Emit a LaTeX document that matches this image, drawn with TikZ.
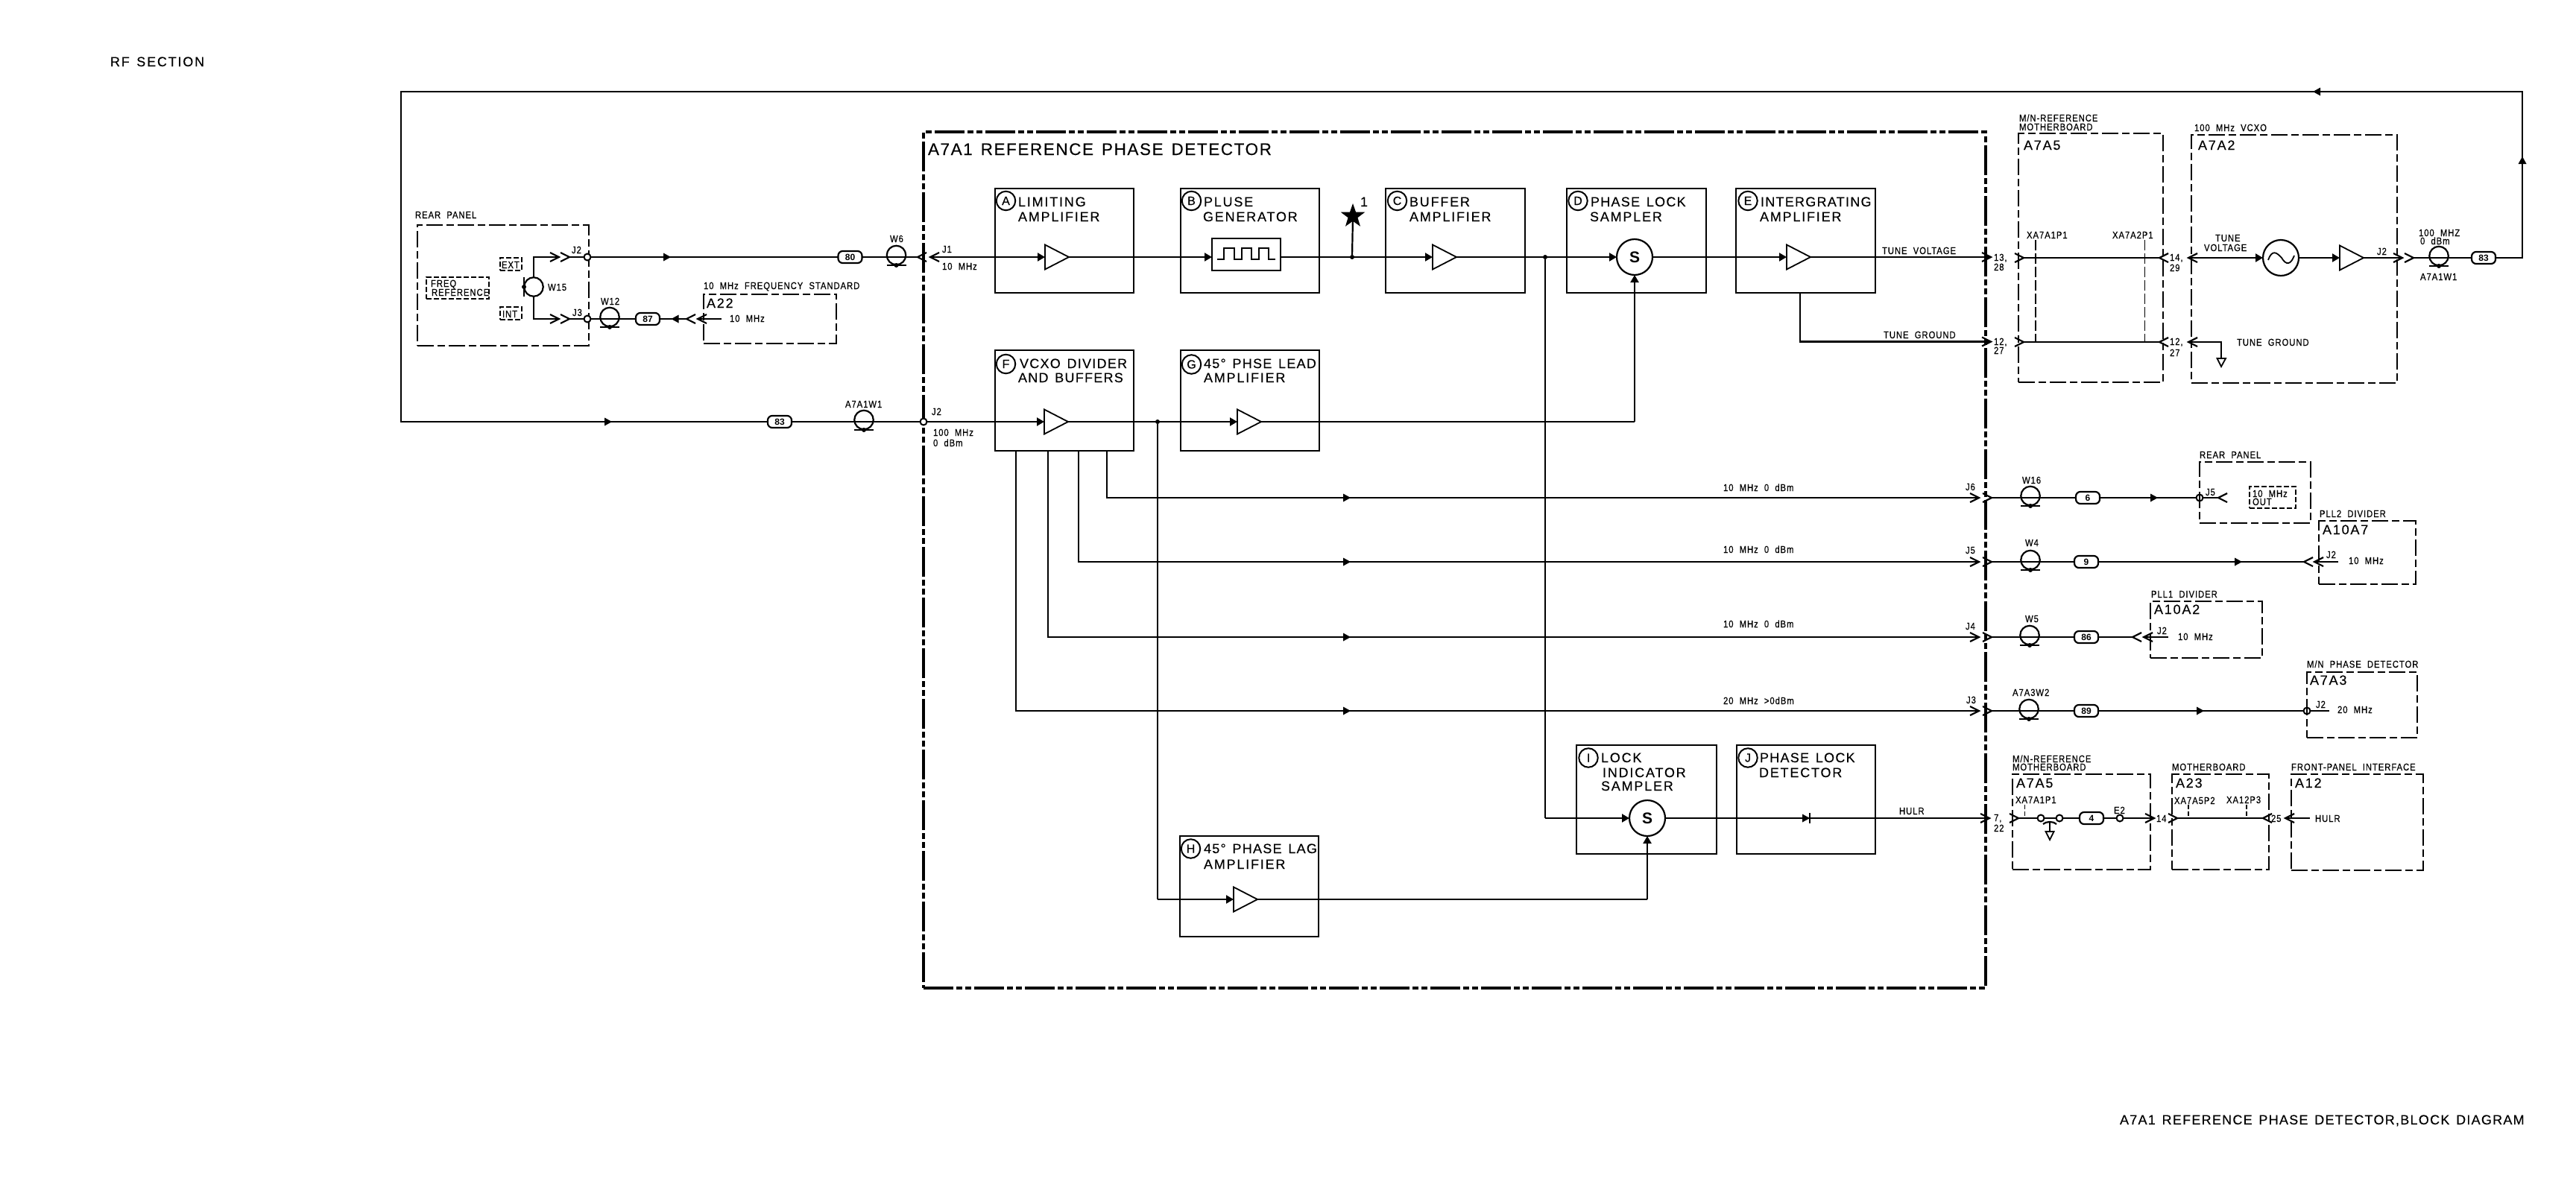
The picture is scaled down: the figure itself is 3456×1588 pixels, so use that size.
\documentclass[tikz,border=0pt]{standalone}
\usepackage{fontspec}
\usetikzlibrary{arrows.meta,shapes.geometric}
\setsansfont{Liberation Sans}
\newfontfamily\bigf[LetterSpace=10,WordSpace=1.4,FakeBold=0.25]{Liberation Sans}
\newfontfamily\titf[LetterSpace=7,WordSpace=1.4,FakeBold=0.25]{Liberation Sans}
\newfontfamily\smf[LetterSpace=7,FakeStretch=0.85,WordSpace=2,FakeBold=0.4]{Liberation Sans}
\newcounter{lb}
\tikzset{
  lblbase/.style={inner sep=0pt,outer sep=0pt,anchor=base west,text=black},
  lblS/.style={lblbase,font=\fontsize{13.3pt}{14pt}\selectfont\smf},
  lblB/.style={lblbase,font=\fontsize{18pt}{19pt}\selectfont\bigf},
  lblT/.style={lblbase,font=\fontsize{18pt}{19pt}\selectfont\titf},
  lblL/.style={lblbase,font=\fontsize{22.5pt}{24pt}\selectfont\titf},
  block/.style={draw,line width=2.2pt,inner sep=0pt,outer sep=0pt},
  mainbox/.style={block,line width=4pt,dash pattern=on 40pt off 4pt on 8pt off 4pt on 8pt off 4pt},
  modbox/.style={block,dash pattern=on 22pt off 5pt on 10pt off 5pt},
  tagbox/.style={block,line width=1.7pt,dash pattern=on 7pt off 3pt},
  conn/.style={draw,line width=2.2pt,line cap=butt},
  arr/.style={conn,-{Triangle[length=10pt,width=11pt]}},
  thin dash/.style={draw,line width=1.6pt,dash pattern=on 14pt off 4pt},
  sym/.style={draw,line width=1.8pt,line join=miter},
  tag/.style={circle,draw,line width=2pt,minimum size=25.5pt,inner sep=0pt,outer sep=0pt,font=\fontsize{16pt}{17pt}\selectfont\bigf},
  sampler/.style={circle,draw,line width=2.2pt,minimum size=48pt,inner sep=0pt,outer sep=0pt,font=\fontsize{21pt}{22pt}\selectfont\sffamily\bfseries},
  port/.style={circle,draw,fill=white,line width=2pt,minimum size=9pt,inner sep=0pt,outer sep=0pt},
  jdot/.style={circle,fill=black,minimum size=6pt,inner sep=0pt,outer sep=0pt},
  coaxring/.style={circle,draw,line width=2.2pt,minimum size=25.5pt,inner sep=0pt,outer sep=0pt},
  pill/.style={draw,line width=2.2pt,rounded corners=6pt,minimum width=32pt,minimum height=16pt,inner sep=0pt,outer sep=0pt,font=\fontsize{12pt}{13pt}\selectfont\sffamily\bfseries},
}
\newcommand\TS[3]{\stepcounter{lb}\node[lblS,name=t\thelb] at (#1,#2) {#3};}
\newcommand\TB[3]{\stepcounter{lb}\node[lblB,name=t\thelb] at (#1,#2) {#3};}
\newcommand\TT[3]{\stepcounter{lb}\node[lblT,name=t\thelb] at (#1,#2) {#3};}
\newcommand\TL[3]{\stepcounter{lb}\node[lblL,name=t\thelb] at (#1,#2) {#3};}
\newcommand\Bx[6]{\node[#1,name=#2,minimum width={(#5-#3)*1pt},minimum height={(#6-#4)*1pt}] at ({(#3+#5)/2},{(#4+#6)/2}) {};}
\newcommand\Amp[3]{\coordinate (#1-in) at (#2,#3); \coordinate (#1-out) at ({#2+32},#3); \draw[sym] (#2,{#3-16.5}) -- ({#2+32},#3) -- (#2,{#3+16.5}) -- cycle;}
\newcommand\OpenR[3]{\coordinate (#1) at (#2,#3); \draw[sym,line width=2.2pt] ({#2-12},{#3-6}) -- (#2,#3) -- ({#2-12},{#3+6});}
\newcommand\OpenL[3]{\coordinate (#1) at (#2,#3); \draw[sym,line width=2.2pt] ({#2+12},{#3-6}) -- (#2,#3) -- ({#2+12},{#3+6});}
\newcommand\Ftri[3]{\fill[shift={(#1,#2)},rotate=#3] (-10,-5.5) -- (0,0) -- (-10,5.5) -- cycle;}
\newcommand\Coax[3]{\node[coaxring,name=#1] at (#2,{#3-2.5}) {}; \coordinate (#1-dot) at (#2,{#3+11}); \draw[conn] ({#2-13},{#3+11}) -- ({#2+13},{#3+11}); \node[jdot,name=#1-d] at (#1-dot) {};}
\begin{document}
\begin{tikzpicture}[x=1pt,y=-1pt]
\fill[white] (0,0) rectangle (3456,1588);
\useasboundingbox (0,0) rectangle (3456,1588);

% ---- titles
\TB{148}{89}{RF SECTION}
\TT{2844}{1509}{A7A1 REFERENCE PHASE DETECTOR,BLOCK DIAGRAM}

% ---- main box and blocks
\Bx{mainbox}{main}{1239}{177}{2664}{1326}
\TL{1245}{208}{A7A1 REFERENCE PHASE DETECTOR}
\Bx{block}{bA}{1335}{253}{1521}{393}
\Bx{block}{bB}{1584}{253}{1770}{393}
\Bx{block}{bC}{1859}{253}{2046}{393}
\Bx{block}{bD}{2102}{253}{2289}{393}
\Bx{block}{bE}{2329}{253}{2516}{393}
\Bx{block}{bF}{1335}{470}{1521}{605}
\Bx{block}{bG}{1584}{470}{1770}{605}
\Bx{block}{bH}{1583}{1122}{1769}{1257}
\Bx{block}{bI}{2115}{1000}{2303}{1146}
\Bx{block}{bJ}{2330}{1000}{2516}{1146}

\node[tag,name=cA] at (1349.5,269.5) {A}; \TB{1366}{277}{LIMITING} \TB{1366}{297}{AMPLIFIER}
\node[tag,name=cB] at (1598.5,269.5) {B}; \TB{1615}{277}{PLUSE} \TB{1614}{297}{GENERATOR}
\node[tag,name=cC] at (1874.5,269.5) {C}; \TB{1891}{277}{BUFFER} \TB{1891}{297}{AMPLIFIER}
\node[tag,name=cD] at (2117,269.5) {D}; \TT{2134}{277}{PHASE LOCK} \TB{2133}{297}{SAMPLER}
\node[tag,name=cE] at (2345,269.5) {E}; \TT{2362}{277}{INTERGRATING} \TB{2361}{297}{AMPLIFIER}
\node[tag,name=cF] at (1349.5,488.5) {F}; \TT{1368}{494}{VCXO DIVIDER} \TT{1366}{513}{AND BUFFERS}
\node[tag,name=cG] at (1598.5,489) {G}; \TT{1615}{494}{45° PHSE LEAD} \TB{1615}{513}{AMPLIFIER}
\node[tag,name=cH] at (1597.5,1139) {H}; \TT{1615}{1145}{45° PHASE LAG} \TB{1615}{1166}{AMPLIFIER}
\node[tag,name=cI] at (2131,1017) {I}; \TB{2148}{1023}{LOCK} \TB{2150}{1043}{INDICATOR} \TB{2148}{1061}{SAMPLER}
\node[tag,name=cJ] at (2345,1017) {J}; \TT{2361}{1023}{PHASE LOCK} \TB{2360}{1043}{DETECTOR}

% ---- amplifiers, samplers, pulse box
\Amp{ampA}{1402}{345}
\Amp{ampC}{1922}{345}
\Amp{ampE}{2397}{345}
\Amp{ampF}{1401}{566}
\Amp{ampG}{1660}{566}
\Amp{ampH}{1655}{1207}
\node[sampler,name=sD] at (2193,345) {S};
\node[sampler,name=sI] at (2210,1098) {S};
\Bx{block}{pulse}{1626}{320}{1718}{363}
\draw[sym] (1633,348) -- (1642,348) -- (1642,333) -- (1656,333) -- (1656,348) -- (1666,348) -- (1666,333) -- (1679,333) -- (1679,348) -- (1689,348) -- (1689,333) -- (1702,333) -- (1702,348) -- (1711,348);

% ---- main signal path
\OpenL{j1in}{1248}{345}
\draw[arr] (j1in) -- (ampA-in);
\draw[arr] (ampA-out) -- (ampA-out -| pulse.west);
\node[jdot,name=jStar] at (1814,345) {};
\draw[arr] (ampC-in -| pulse.east) -- (ampC-in);
\node[jdot,name=jOut] at (2073,345) {};
\draw[arr] (ampC-out) -- (sD.west);
\draw[arr] (sD.east) -- (ampE-in);
\node[star,star points=5,star point ratio=2.5,fill=black,minimum size=34pt,inner sep=0pt,name=star1] at (1815,290) {};
\draw[conn] (jStar) -- (star1.center);
\TB{1825}{277}{1}
\OpenR{tvOut}{2671}{345}
\draw[conn] (ampE-out) -- (tvOut);
\TS{2525}{341}{TUNE VOLTAGE}
\coordinate (tgTap) at (2415,393);
\OpenR{tgOut}{2671}{458.5}
\draw[conn] (tgTap) |- (tgOut);
\TS{2527}{454}{TUNE GROUND}
\TS{2675}{350}{13,} \TS{2675}{363}{28}
\TS{2675}{463}{12,} \TS{2675}{475}{27}

% ---- VCXO divider paths
\node[port,name=j2in] at (1239,566) {};
\draw[arr] (j2in) -- (ampF-in);
\node[jdot,name=jF] at (1553,566) {};
\draw[arr] (ampF-out) -- (ampG-in);
\coordinate (tG) at (2193,566);
\draw[conn] (ampG-out) -- (tG);
\draw[arr] (tG) -- (sD.south);
\coordinate (tH) at (1553,1207);
\draw[conn] (jF) -- (tH);
\draw[arr] (tH) -- (ampH-in);
\coordinate (tHo) at (2210,1207);
\draw[conn] (ampH-out) -- (tHo);
\draw[arr] (tHo) -- (sI.south);
\coordinate (tOut) at (2073,1098);
\draw[conn] (jOut) -- (tOut);
\draw[arr] (tOut) -- (sI.west);
\OpenR{hulrOut}{2669}{1098}
\draw[conn] (sI.east) -- (hulrOut);
\Ftri{2428}{1098}{0}
\draw[conn] (2428,1091) -- (2428,1105);
\TS{2548}{1093}{HULR}
\TS{2675}{1102}{7,} \TS{2675}{1116}{22}

% ---- taps
\coordinate (fa) at (1485,605); \coordinate (fb) at (1447,605); \coordinate (fc) at (1406,605); \coordinate (fd) at (1363,605);
\OpenR{j6}{2655}{668} \OpenR{j5}{2655}{754} \OpenR{j4}{2655}{855} \OpenR{j3}{2655}{954}
\draw[conn] (fa) |- (j6); \draw[conn] (fb) |- (j5); \draw[conn] (fc) |- (j4); \draw[conn] (fd) |- (j3);
\Ftri{1812}{668}{0} \Ftri{1812}{754}{0} \Ftri{1812}{855}{0} \Ftri{1812}{954}{0}
\TS{2312}{659}{10 MHz 0 dBm} \TS{2312}{742}{10 MHz 0 dBm} \TS{2312}{842}{10 MHz 0 dBm} \TS{2312}{945}{20 MHz >0dBm}
\TS{2637}{658}{J6} \TS{2637}{743}{J5} \TS{2637}{845}{J4} \TS{2638}{944}{J3}

% ---- rear panel and left side
\Bx{modbox}{rear}{560}{302}{790}{464}
\TS{557}{293}{REAR PANEL}
\Bx{tagbox}{tFreq}{572}{372}{656}{401} \TS{578}{385}{FREQ} \TS{579}{397}{REFERENCE}
\Bx{tagbox}{tExt}{671}{346}{700}{363} \TS{673}{360}{EXT}
\Bx{tagbox}{tInt}{671}{412}{700}{429} \TS{674}{426}{INT}
\node[coaxring,name=w15] at (716,385) {};
\draw[conn] (703,372) -- (703,398);
\node[jdot,name=w15d] at (703,385) {};
\TS{735}{390}{W15}
\OpenR{rJ2}{750}{345} \OpenR{rJ3}{750}{428}
\coordinate (wTop) at (716,345); \coordinate (wBot) at (716,428);
\draw[conn] (w15.north) -- (wTop) -- (rJ2);
\draw[conn] (w15.south) -- (wBot) -- (rJ3);
\OpenR{rJ2c}{764}{345} \OpenR{rJ3c}{764}{428}
\node[port,name=pJ2] at (788,345) {};
\node[port,name=pJ3] at (788,428) {};
\draw[conn] (rJ2c) -- (pJ2); \draw[conn] (rJ3c) -- (pJ3);
\TS{767}{340}{J2} \TS{768}{424}{J3}

\node[pill,name=p80] at (1140.5,345) {80};
\Coax{w6}{1202.5}{345}
\TS{1194}{325}{W6}
\OpenL{j1c}{1231}{345}
\draw[conn] (pJ2) -- (p80.west); \draw[conn] (p80.east) -- (j1c);
\Ftri{900}{345}{0}
\TS{1264}{339}{J1} \TS{1264}{362}{10 MHz}

\Bx{modbox}{a22}{944}{395}{1122}{461}
\TS{944}{388}{10 MHz FREQUENCY STANDARD}
\TB{948}{413}{A22}
\TS{979}{432}{10 MHz}
\OpenL{a22in}{936}{428} \coordinate (a22t) at (968,428);
\draw[conn] (a22in) -- (a22t);
\OpenL{a22c}{921}{428}
\node[pill,name=p87] at (869,428) {87};
\Coax{w12}{818}{428}
\TS{806}{409}{W12}
\draw[conn] (a22c) -- (p87.east); \draw[conn] (p87.west) -- (pJ3);
\Ftri{900.5}{428}{180}

% ---- lower return line
\node[pill,name=p83a] at (1046,566) {83};
\Coax{w1a}{1159}{566}
\TS{1134}{547}{A7A1W1}
\TS{1250}{557}{J2} \TS{1252}{585}{100 MHz} \TS{1252}{599}{0 dBm}
\draw[conn] (p83a.east) -- (j2in);
\Ftri{821}{566}{0}

% ---- A7A5 upper
\Bx{modbox}{a7a5}{2708}{179}{2902}{513}
\TS{2709}{163}{M/N-REFERENCE} \TS{2709}{175}{MOTHERBOARD}
\TB{2715}{201}{A7A5}
\TS{2719}{320}{XA7A1P1} \TS{2834}{320}{XA7A2P1}
\OpenR{a5a}{2715}{346} \OpenL{a5b}{2897}{346}
\OpenR{a5c}{2715}{459} \OpenL{a5d}{2897}{459}
\draw[conn] (a5a) -- (a5b); \draw[conn] (a5c) -- (a5d);
\coordinate (xa1t) at (2731,322); \coordinate (xa1b) at (2731,459);
\coordinate (xa2t) at (2877.5,322); \coordinate (xa2b) at (2877.5,459);
\draw[thin dash] (xa1t) -- (xa1b); \draw[thin dash] (xa2t) -- (xa2b);
\TS{2911}{350}{14,} \TS{2911}{364}{29}
\TS{2911}{463}{12,} \TS{2911}{478}{27}

% ---- A7A2
\Bx{modbox}{a7a2}{2940}{181}{3216}{514}
\TS{2944}{176}{100 MHz VCXO}
\TB{2949}{201}{A7A2}
\TS{2972}{324}{TUNE} \TS{2957}{337}{VOLTAGE}
\TS{3001}{464}{TUNE GROUND}
\node[sampler,name=osc] at (3060,346) {};
\draw[sym] (3043,349) .. controls (3048,335) and (3054,338) .. (3061,346) .. controls (3067,356) and (3073,356) .. (3078,343);
\OpenL{a2in}{2936}{346}
\draw[arr] (a2in) -- (osc.west);
\Amp{ampV}{3139}{346}
\draw[arr] (osc.east) -- (ampV-in);
\OpenR{a2o}{3223}{346}
\draw[conn] (ampV-out) -- (a2o);
\TS{3189}{342}{J2}
\OpenL{a2g}{2936}{459}
\coordinate (gc) at (2980,459); \coordinate (gb) at (2980,481);
\draw[conn] (a2g) -- (gc) -- (gb);
\draw[sym] (2974.5,481) -- (2986,481) -- (2980,492) -- cycle;

\OpenR{a2oc}{3238}{346}
\Coax{w1b}{3272}{346}
\node[pill,name=p83b] at (3332,346) {83};
\draw[conn] (a2oc) -- (p83b.west);
\TS{3245}{317}{100 MHZ} \TS{3247}{328}{0 dBm} \TS{3247}{376}{A7A1W1}

% ---- outer loop
\coordinate (lp1) at (3384,346); \coordinate (lp2) at (3384,123); \coordinate (lp3) at (538,123); \coordinate (lp4) at (538,566);
\draw[conn] (p83b.east) -- (lp1) -- (lp2) -- (lp3) -- (lp4) -- (p83a.west);
\Ftri{3384}{210}{90}
\Ftri{3103}{123}{180}

% ---- J6 branch
\OpenR{j6c}{2672}{668}
\Coax{w16}{2724}{668}
\TS{2713}{649}{W16}
\node[pill,name=p6] at (2801,668) {6};
\node[port,name=pJ5r] at (2951,668) {};
\draw[conn] (j6c) -- (p6.west); \draw[conn] (p6.east) -- (pJ5r);
\Ftri{2895}{668}{0}
\Bx{modbox}{rear2}{2951}{620}{3100}{702}
\TS{2951}{615}{REAR PANEL}
\TS{2959}{665}{J5}
\OpenL{rear2c}{2976}{668}
\draw[conn] (pJ5r) -- (rear2c);
\Bx{tagbox}{tOut2}{3018}{653}{3080}{682}
\TS{3022}{667}{10 MHz} \TS{3022}{678}{OUT}

% ---- J5 branch
\OpenR{j5c}{2672}{754}
\Coax{w4}{2724}{754}
\TS{2717}{733}{W4}
\node[pill,name=p9] at (2799,754) {9};
\OpenL{a107c}{3091}{754}
\draw[conn] (j5c) -- (p9.west); \draw[conn] (p9.east) -- (a107c);
\Ftri{3008}{754}{0}
\Bx{modbox}{a10a7}{3111}{699}{3241}{784}
\TS{3112}{694}{PLL2 DIVIDER}
\TB{3116}{717}{A10A7}
\TS{3121}{749}{J2} \TS{3151}{757}{10 MHz}
\OpenL{a107i}{3105}{754} \coordinate (a107t) at (3137,754);
\draw[conn] (a107i) -- (a107t);

% ---- J4 branch
\OpenR{j4c}{2672}{855}
\Coax{w5}{2723}{855}
\TS{2717}{835}{W5}
\node[pill,name=p86] at (2799,855) {86};
\OpenL{a102c}{2861}{855}
\draw[conn] (j4c) -- (p86.west); \draw[conn] (p86.east) -- (a102c);
\Bx{modbox}{a10a2}{2885}{807}{3035}{883}
\TS{2886}{802}{PLL1 DIVIDER}
\TB{2890}{824}{A10A2}
\TS{2894}{851}{J2} \TS{2922}{859}{10 MHz}
\OpenL{a102i}{2876}{855} \coordinate (a102t) at (2909,855);
\draw[conn] (a102i) -- (a102t);

% ---- J3 branch
\OpenR{j3c}{2672}{954}
\Coax{w2}{2722}{954}
\TS{2700}{934}{A7A3W2}
\node[pill,name=p89] at (2799,954) {89};
\node[port,name=pA7A3] at (3095,954) {};
\draw[conn] (j3c) -- (p89.west); \draw[conn] (p89.east) -- (pA7A3);
\Ftri{2957}{954}{0}
\Bx{modbox}{a7a3}{3095}{902}{3243}{990}
\TS{3095}{896}{M/N PHASE DETECTOR}
\TB{3099}{919}{A7A3}
\TS{3107}{950}{J2} \TS{3136}{957}{20 MHz}
\coordinate (a73t) at (3125,954);
\draw[conn] (pA7A3) -- (a73t);

% ---- HULR chain
\Bx{modbox}{a5l}{2700}{1039}{2885}{1167}
\TS{2700}{1023}{M/N-REFERENCE} \TS{2700}{1034}{MOTHERBOARD}
\TB{2705}{1057}{A7A5}
\TS{2704}{1078}{XA7A1P1}
\OpenR{h1}{2708}{1098}
\node[port,name=h2] at (2738,1098) {};
\node[port,name=h3] at (2763,1098) {};
\node[pill,name=p4] at (2806,1098) {4};
\node[port,name=e2] at (2844,1098) {};
\OpenR{h4}{2890}{1098}
\draw[conn] (h1) -- (h2); \draw[conn] (h2) -- (h3); \draw[conn] (h3) -- (p4.west); \draw[conn] (p4.east) -- (e2); \draw[conn] (e2) -- (h4);
\TS{2836}{1092}{E2}
\coordinate (xh1) at (2716.5,1080); \coordinate (xh1b) at (2716.5,1098);
\draw[thin dash,dash pattern=on 6pt off 3pt] (xh1) -- (xh1b);
\draw[conn] (2741,1106) .. controls (2745,1102) and (2755,1102) .. (2759,1106);
\coordinate (hg1) at (2750,1103); \coordinate (hg2) at (2750,1116);
\draw[conn] (hg1) -- (hg2);
\draw[sym] (2744.5,1116) -- (2755.5,1116) -- (2750,1127) -- cycle;
\TS{2893}{1103}{14}
\Bx{modbox}{a23}{2914}{1039}{3044}{1167}
\TS{2914}{1034}{MOTHERBOARD}
\TB{2919}{1057}{A23}
\TS{2917}{1079}{XA7A5P2} \TS{2987}{1078}{XA12P3}
\OpenR{h5}{2921}{1098} \OpenL{h6}{3036}{1098}
\draw[conn] (h5) -- (h6);
\coordinate (xh2) at (2936,1080); \coordinate (xh2b) at (2936,1098);
\coordinate (xh3) at (3014,1080); \coordinate (xh3b) at (3014,1098);
\draw[thin dash,dash pattern=on 6pt off 3pt] (xh2) -- (xh2b);
\draw[thin dash,dash pattern=on 6pt off 3pt] (xh3) -- (xh3b);
\TS{3047}{1103}{25}
\Bx{modbox}{a12}{3074}{1039}{3251}{1168}
\TS{3074}{1034}{FRONT-PANEL INTERFACE}
\TB{3079}{1057}{A12}
\OpenL{h7}{3066}{1098} \coordinate (h7t) at (3099,1098);
\draw[conn] (h7) -- (h7t);
\TS{3106}{1103}{HULR}
\end{tikzpicture}
\end{document}
